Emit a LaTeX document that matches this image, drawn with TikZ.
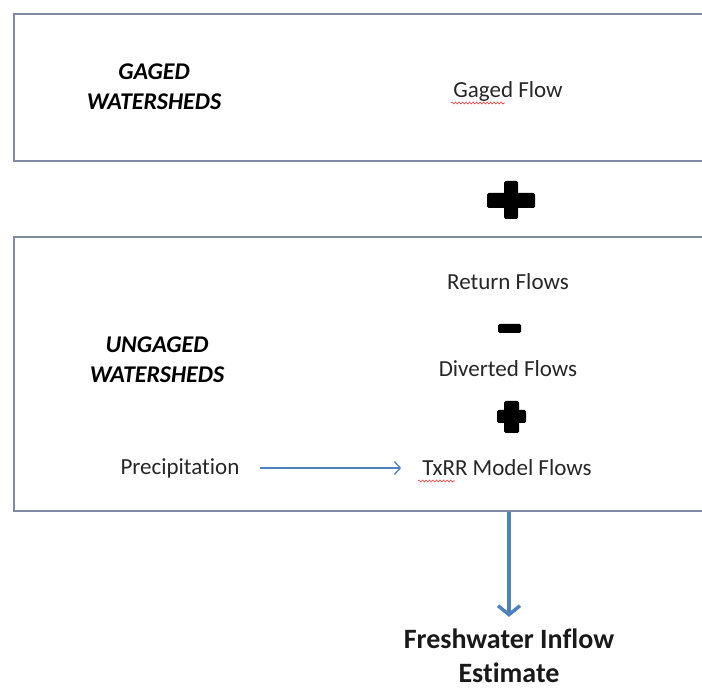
\documentclass[tikz,border=0pt]{standalone}
\usepackage{fontspec}
\setmainfont{Carlito}[Ligatures=NoCommon]
\usetikzlibrary{positioning,arrows.meta,decorations.pathmorphing}
\definecolor{panelgray}{RGB}{128,140,158}
\definecolor{flowblue}{RGB}{79,129,189}

\begin{document}
\begin{tikzpicture}[x=1pt,y=1pt,>={Straight Barb[length=6pt,width=13pt]},
		panel/.style={draw=panelgray, line width=1.8pt, minimum width=720pt, anchor=north west, inner sep=0pt},
		shed/.style={font=\fontsize{24}{30}\selectfont\bfseries\itshape, align=center, inner sep=2pt},
		flow/.style={font=\fontsize{23}{28}\selectfont, text=black!85, inner sep=2pt},
		result/.style={font=\fontsize{28}{34}\selectfont\bfseries, align=center, text=black!90, inner sep=1pt},
		sign/.style={fill=black, rounded corners=1.5pt},
		squiggle/.style={red!80, line width=0.6pt, decorate, decoration={snake, amplitude=1pt, segment length=3.5pt}}]
		\clip (0,0) rectangle (702,-692);
		
		\node [panel, minimum height=147pt] (gbox) at (13,-13) {};
		\node [panel, minimum height=274pt] (ubox) at (13,-236) {};
		
		\node [shed] (gaged) at (154,-87) {GAGED\\WATERSHEDS};
		\node [flow] (gflow) at (508,-91) {Gaged Flow};
		
		\node [shed] (ungaged) at (157,-360) {UNGAGED\\WATERSHEDS};
		\node [flow] (rflow) at (508,-282) {Return Flows};
		\node [flow] (dflow) at (508,-369) {Diverted Flows};
		\node [flow] (txrr) at (507,-468) {TxRR Model Flows};
		\node [flow] (precip) at (180,-468) {Precipitation};
		
		\node [result] (estimate) at (509,-656) {Freshwater Inflow\\Estimate};
		
		% plus / minus signs
		\fill [sign] (487,-193) rectangle (535,-208);
		\fill [sign] (504,-181) rectangle (518,-219);
		\fill [sign] (498,-324) rectangle (521,-333);
		\fill [sign] (497,-410) rectangle (526,-423);
		\fill [sign] (504,-401) rectangle (519,-433);
		
		% spelling marks
		\draw [squiggle] (451,-103) -- (505,-103);
		\draw [squiggle] (418,-481) -- (455,-481);
		
		\draw [->, flowblue, line width=1.3pt, shorten <=18pt, shorten >=19pt] (precip) -- (txrr);
		\draw [->, flowblue, line width=3.4pt, >={Straight Barb[length=9pt,width=22pt]}, shorten >=11pt] (estimate.north |- ubox.south) -- (estimate.north);
\end{tikzpicture}
\end{document}
